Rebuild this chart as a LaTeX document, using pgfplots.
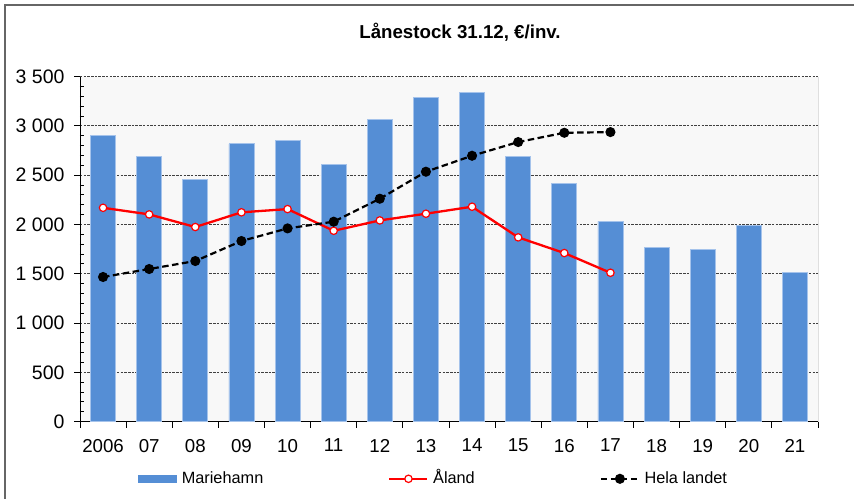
\documentclass[border=0pt]{standalone}
\usepackage{pgfplots}
\pgfplotsset{compat=1.18}
\usepackage{fontspec}
\setmainfont{Liberation Sans}
\definecolor{barblue}{RGB}{85,142,213}
\definecolor{baredge}{RGB}{165,195,235}
\definecolor{plotbg}{RGB}{248,248,248}
\pgfplotsset{
  barlegend/.style={legend image code/.code={\fill[barblue] (0bp,-3.9bp) rectangle (38bp,3.9bp);}},
  longlinelegend/.style={legend image code/.code={\draw[mark repeat=2,mark phase=2,##1] plot coordinates {(0bp,0bp) (19bp,0bp) (38bp,0bp)};}},
}
\begin{document}
\begin{tikzpicture}
\useasboundingbox (-80bp,-77.4bp) rectangle (774bp,421.6bp);
\draw[black!60, line width=1.3bp] (-75bp,-90bp) -- (-75bp,416.6bp) -- (790bp,416.6bp);
\begin{axis}[
  at={(0bp,0bp)}, anchor=south west,
  width=738bp, height=345bp, scale only axis,
  xmin=-0.5, xmax=15.5, ymin=0, ymax=3500,
  axis x line*=bottom, axis y line*=left,
  axis line style={-, black, line width=0.9bp},
  axis background/.style={fill=plotbg},
  tick align=outside,
  tick style={black, line width=0.8bp},
  xtick={-0.5,0.5,...,15.5}, xticklabels={},
  major tick length=6bp,
  extra x ticks={0,1,...,15},
  extra x tick labels={2006,07,08,09,10,11,12,13,14,15,16,17,18,19,20,21},
  extra x tick style={major tick length=0pt, grid=none},
  ytick={0,500,...,3500},
  yticklabels={0,500,1 000,1 500,2 000,2 500,3 000,3 500},
  extra y ticks={100,200,300,400,600,700,800,900,1100,1200,1300,1400,1600,1700,1800,1900,2100,2200,2300,2400,2600,2700,2800,2900,3100,3200,3300,3400},
  extra y tick labels={},
  extra y tick style={tick align=inside, major tick length=4bp, grid=none},
  ymajorgrids,
  grid style={black!75, line width=0.9bp, dash pattern=on 2.5bp off 1.2bp},
  yticklabel style={xshift=-6bp, font=\fontsize{19.5bp}{23bp}\selectfont},
  xticklabel style={yshift=-14bp, font=\fontsize{18.7bp}{22bp}\selectfont},
  title={\bfseries Lånestock 31.12, €/inv.},
  title style={at={(380bp,377.6bp)}, anchor=base, font=\fontsize{18.7bp}{22bp}\selectfont},
  legend columns=3,
  legend style={at={(axis description cs:0.079,-0.1658)}, anchor=west, draw=none, fill=none,
    inner xsep=0pt, inner ysep=0pt,
    nodes={inner sep=0pt, text height=1.05em, text depth=0.2em},
    font=\fontsize{16.3bp}{19bp}\selectfont,
    /tikz/every odd column/.append style={column sep=4.5bp},
    /tikz/every even column/.append style={column sep=125bp}},
  legend cell align=left,
]
\addplot[ybar, bar width=25bp, fill=barblue, draw=baredge, line width=0.8bp, barlegend]
  coordinates {(0,2900) (1,2690) (2,2460) (3,2818) (4,2853) (5,2610) (6,3069) (7,3289)
  (8,3336) (9,2691) (10,2413) (11,2031) (12,1771) (13,1747) (14,1991) (15,1517)};
\addlegendentry{Mariehamn}
\addplot[red, line width=2.3bp, mark=*, mark size=3.7bp, mark options={fill=white, draw=red, line width=1.2bp, solid}, longlinelegend]
  coordinates {(0,2169) (1,2102) (2,1974) (3,2123) (4,2156) (5,1936) (6,2041) (7,2109)
  (8,2180) (9,1869) (10,1710) (11,1510)};
\addlegendentry{Åland}
\addplot[black, line width=2.2bp, dash pattern=on 6.5bp off 3.5bp, mark=*, mark size=3.9bp, mark options={fill=black, solid}, longlinelegend]
  coordinates {(0,1467) (1,1548) (2,1629) (3,1832) (4,1960) (5,2028) (6,2261) (7,2535)
  (8,2697) (9,2836) (10,2930) (11,2937)};
\addlegendentry{Hela landet}
\draw[black, line width=0.9bp] (rel axis cs:1,0) -- (rel axis cs:1,1);
\end{axis}
\end{tikzpicture}
\end{document}
